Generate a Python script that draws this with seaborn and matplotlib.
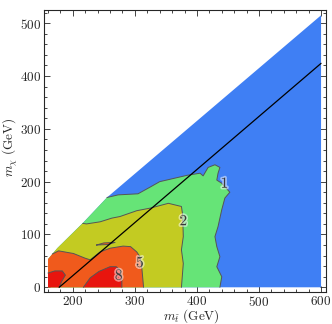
import matplotlib
matplotlib.use("Agg")
import matplotlib.pyplot as plt
import matplotlib.patheffects as pe
from matplotlib.ticker import MultipleLocator, FuncFormatter
import seaborn as sns

# Scanned region of the (m_stop, m_chi) plane
domain_mstop = [160, 160, 175, 218, 255, 600, 600]
domain_mchi = [0, 53, 74, 124, 170, 515, 0]

# Contour lines
c1_mstop = [255, 273, 305, 325, 340, 362, 384, 405, 410, 418, 429, 437, 434,
            432, 440, 453, 445, 440, 434, 429, 432, 437, 432, 440, 437]
c1_mchi = [170, 175, 177, 190, 200, 206, 212, 216, 211, 227, 232, 227, 216,
           203, 197, 180, 169, 147, 115, 96, 77, 58, 39, 20, 0]

c2_mstop = [216, 222, 244, 263, 276, 303, 325, 354, 375, 377, 378, 375, 378, 375]
c2_mchi = [121, 120, 124, 131, 134, 145, 150, 159, 153, 137, 96, 71, 45, 0]

c5_mstop = [167, 177, 201, 220, 228, 244, 260, 281, 293, 303, 308, 311, 314]
c5_mchi = [63, 69, 64, 55, 52, 67, 74, 78, 77, 67, 58, 39, 0]

c5_island_mstop = [238, 250, 268, 256, 238]
c5_island_mchi = [80, 84, 85, 81, 80]

c8a_mstop = [160, 171, 183, 188, 182, 178]
c8a_mchi = [27, 31, 31, 23, 11, 0]

c8b_mstop = [217, 228, 242, 260, 270, 276, 279, 279]
c8b_mchi = [0, 18, 30, 39, 39, 33, 17, 0]

# m_chi = m_stop - m_top
top_mstop = [178, 600]
top_mchi = [0, 424]

labels = ["1", "2", "5", "8"]
label_mstop = [445, 379, 309, 275]
label_mchi = [197, 126, 47, 23]

colors = ["#3f7ff4", "#66e477", "#c3cb22", "#f05a1c", "#e8150e"]

sns.set_style("ticks")
plt.rcParams["font.family"] = ["DejaVu Serif"]
plt.rcParams["mathtext.fontset"] = "cm"

fig = plt.figure(figsize=(3.32, 3.24), dpi=100)
ax = fig.add_axes([0.1334, 0.0978, 0.8486, 0.8713])

ax.fill(domain_mstop, domain_mchi, color=colors[0], lw=0, zorder=1)
ax.fill(c1_mstop + [160, 160, 175, 218], c1_mchi + [0, 53, 74, 124],
        color=colors[1], lw=0, zorder=1)
ax.fill(c2_mstop + [160, 160, 175], c2_mchi + [0, 53, 74],
        color=colors[2], lw=0, zorder=1)
ax.fill(c5_mstop + [160, 160], c5_mchi + [0, 53], color=colors[3], lw=0, zorder=1)
ax.fill(c5_island_mstop, c5_island_mchi, color=colors[3], lw=0, zorder=1)
ax.fill(c8a_mstop + [160], c8a_mchi + [0], color=colors[4], lw=0, zorder=1)
ax.fill(c8b_mstop, c8b_mchi, color=colors[4], lw=0, zorder=1)

for xs, ys in [(c1_mstop, c1_mchi), (c2_mstop, c2_mchi), (c5_mstop, c5_mchi),
               (c5_island_mstop, c5_island_mchi), (c8a_mstop, c8a_mchi),
               (c8b_mstop, c8b_mchi)]:
    ax.plot(xs, ys, color="#555555", lw=0.7, zorder=2)

sns.lineplot(x=top_mstop, y=top_mchi, color="black", lw=0.9, ax=ax, zorder=3)

for t, x, y in zip(labels, label_mstop, label_mchi):
    ax.text(x, y, f"${t}$", fontsize=11, color="#3a3a3a", ha="center",
            va="center", zorder=4,
            path_effects=[pe.withStroke(linewidth=2.5, foreground="white", alpha=0.5)])

ax.set_xlim(154, 608)
ax.set_ylim(-9.5, 525)
ax.xaxis.set_major_locator(MultipleLocator(100))
ax.xaxis.set_minor_locator(MultipleLocator(20))
ax.yaxis.set_major_locator(MultipleLocator(100))
ax.yaxis.set_minor_locator(MultipleLocator(20))
fmt = FuncFormatter(lambda v, p: f"${v:.0f}$")
ax.xaxis.set_major_formatter(fmt)
ax.yaxis.set_major_formatter(fmt)
ax.tick_params(which="both", direction="in", top=True, right=True,
               labelsize=9.5, width=0.6)
ax.tick_params(axis="x", pad=1.8)
ax.tick_params(axis="y", pad=2)
ax.tick_params(which="major", length=4)
ax.tick_params(which="minor", length=2)
for s in ax.spines.values():
    s.set_linewidth(0.8)

ax.set_xlabel(r"$m_{\tilde{t}}\ (\mathrm{GeV})$", fontsize=9.5)
ax.set_ylabel(r"$m_{\chi}\ (\mathrm{GeV})$", fontsize=9.5, va="center")
ax.xaxis.set_label_coords(0.5225, -0.052)
ax.yaxis.set_label_coords(-0.119, 0.513)

fig.savefig("out.png", dpi=100)
